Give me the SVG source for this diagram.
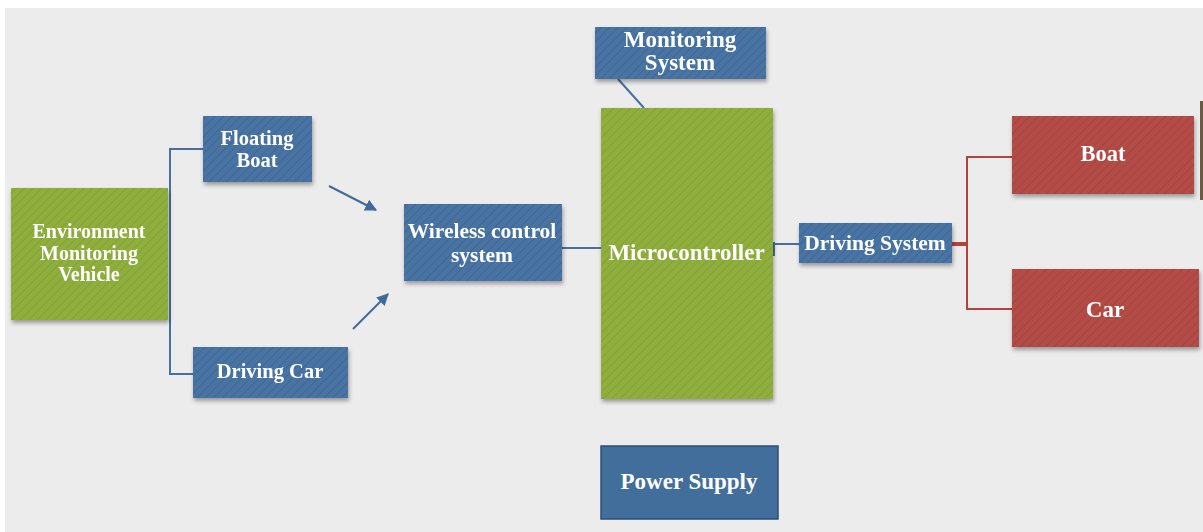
<svg xmlns="http://www.w3.org/2000/svg" width="1203" height="532" viewBox="0 0 1203 532">
<style>
.t{font-family:"Liberation Serif","Times New Roman",serif;font-weight:bold;fill:#ffffff;text-anchor:middle}
.blue{fill:url(#hb)}
.green{fill:url(#hg)}
.red{fill:url(#hr)}
.ln{fill:none;stroke:#4571a0;stroke-width:2}
.rl{fill:none;stroke:#b3423d;stroke-width:2}
</style>
<defs>
<pattern id="hb" width="6" height="6" patternUnits="userSpaceOnUse" patternTransform="rotate(45)">
<rect width="6" height="6" fill="#4873a2"/><line x1="0" y1="0" x2="0" y2="6" stroke="#3f6895" stroke-width="2"/>
</pattern>
<pattern id="hg" width="6" height="6" patternUnits="userSpaceOnUse" patternTransform="rotate(45)">
<rect width="6" height="6" fill="#8fae3c"/><line x1="0" y1="0" x2="0" y2="6" stroke="#84a235" stroke-width="2"/>
</pattern>
<pattern id="hr" width="6" height="6" patternUnits="userSpaceOnUse" patternTransform="rotate(45)">
<rect width="6" height="6" fill="#b34b46"/><line x1="0" y1="0" x2="0" y2="6" stroke="#a7433f" stroke-width="2"/>
</pattern>
<filter id="sh" x="-10%" y="-10%" width="130%" height="140%">
<feDropShadow dx="1" dy="3" stdDeviation="2" flood-color="#000" flood-opacity="0.35"/>
</filter>
<marker id="ah" viewBox="0 0 10 10" refX="9" refY="5" markerWidth="6" markerHeight="6" orient="auto" markerUnits="strokeWidth">
<path d="M0,0 L10,5 L0,10 z" fill="#3f6b9a"/>
</marker>
</defs>
<rect width="1203" height="532" fill="#ffffff"/>
<rect x="5" y="8" width="1198" height="524" fill="#ececec"/>

<g id="connectors">
<polyline class="ln" points="203,149 170,149 170,374 193,374"/>
<line x1="329" y1="186" x2="376" y2="210" stroke="#3f6b9a" stroke-width="2" marker-end="url(#ah)"/>
<line x1="353" y1="329" x2="388" y2="294" stroke="#3f6b9a" stroke-width="2" marker-end="url(#ah)"/>
<line class="ln" x1="562" y1="248" x2="601" y2="248"/>
<line class="ln" x1="618" y1="79" x2="644" y2="108"/>
<line class="ln" x1="773" y1="244" x2="799" y2="244"/>
<line class="ln" x1="774" y1="242" x2="774" y2="256"/>
<line x1="952" y1="244" x2="967" y2="244" stroke="#b3423d" stroke-width="4"/>
<polyline class="rl" points="1012,157 967,157 967,309 1012,309"/>
</g>

<g id="env" filter="url(#sh)">
<rect class="green" x="11" y="188" width="157" height="132"/>
<text class="t" font-size="20" x="89" y="238">Environment</text>
<text class="t" font-size="20" x="89" y="260">Monitoring</text>
<text class="t" font-size="20" x="89" y="281">Vehicle</text>
</g>
<g id="floating" filter="url(#sh)">
<rect class="blue" x="203" y="116" width="109" height="66"/>
<text class="t" font-size="20.5" x="257" y="145">Floating</text>
<text class="t" font-size="20.5" x="257" y="167">Boat</text>
</g>
<g id="drivingcar" filter="url(#sh)">
<rect class="blue" x="193" y="347" width="155" height="51"/>
<text class="t" font-size="20.5" x="270" y="378">Driving Car</text>
</g>
<g id="wireless" filter="url(#sh)">
<rect class="blue" x="404" y="204" width="158" height="77"/>
<text class="t" font-size="21.5" x="482" y="238">Wireless control</text>
<text class="t" font-size="21.5" x="482" y="262">system</text>
</g>
<g id="monitoring" filter="url(#sh)">
<rect class="blue" x="595" y="27" width="171" height="52"/>
<text class="t" font-size="23" x="680" y="47">Monitoring</text>
<text class="t" font-size="23" x="680" y="70">System</text>
</g>
<g id="micro" filter="url(#sh)">
<rect class="green" x="601" y="108" width="172" height="291"/>
<text class="t" font-size="23" x="686.5" y="260">Microcontroller</text>
</g>
<g id="drivingsystem" filter="url(#sh)">
<rect class="blue" x="799" y="223" width="153" height="40"/>
<text class="t" font-size="21.5" x="875" y="250">Driving System</text>
</g>
<g id="boat" filter="url(#sh)">
<rect class="red" x="1012" y="116" width="182" height="78"/>
<text class="t" font-size="22.5" x="1103" y="161">Boat</text>
</g>
<g id="car" filter="url(#sh)">
<rect class="red" x="1012" y="269" width="187" height="78"/>
<text class="t" font-size="23" x="1105" y="317">Car</text>
</g>
<g id="edge">
<rect x="1200" y="101" width="3" height="99" fill="#6b5a45"/>
</g>
<g id="power">
<rect x="601" y="446" width="177" height="73" fill="#426e9b" stroke="#2c4e74" stroke-width="1.5"/>
<text class="t" font-size="23" x="689" y="489">Power Supply</text>
</g>
</svg>
